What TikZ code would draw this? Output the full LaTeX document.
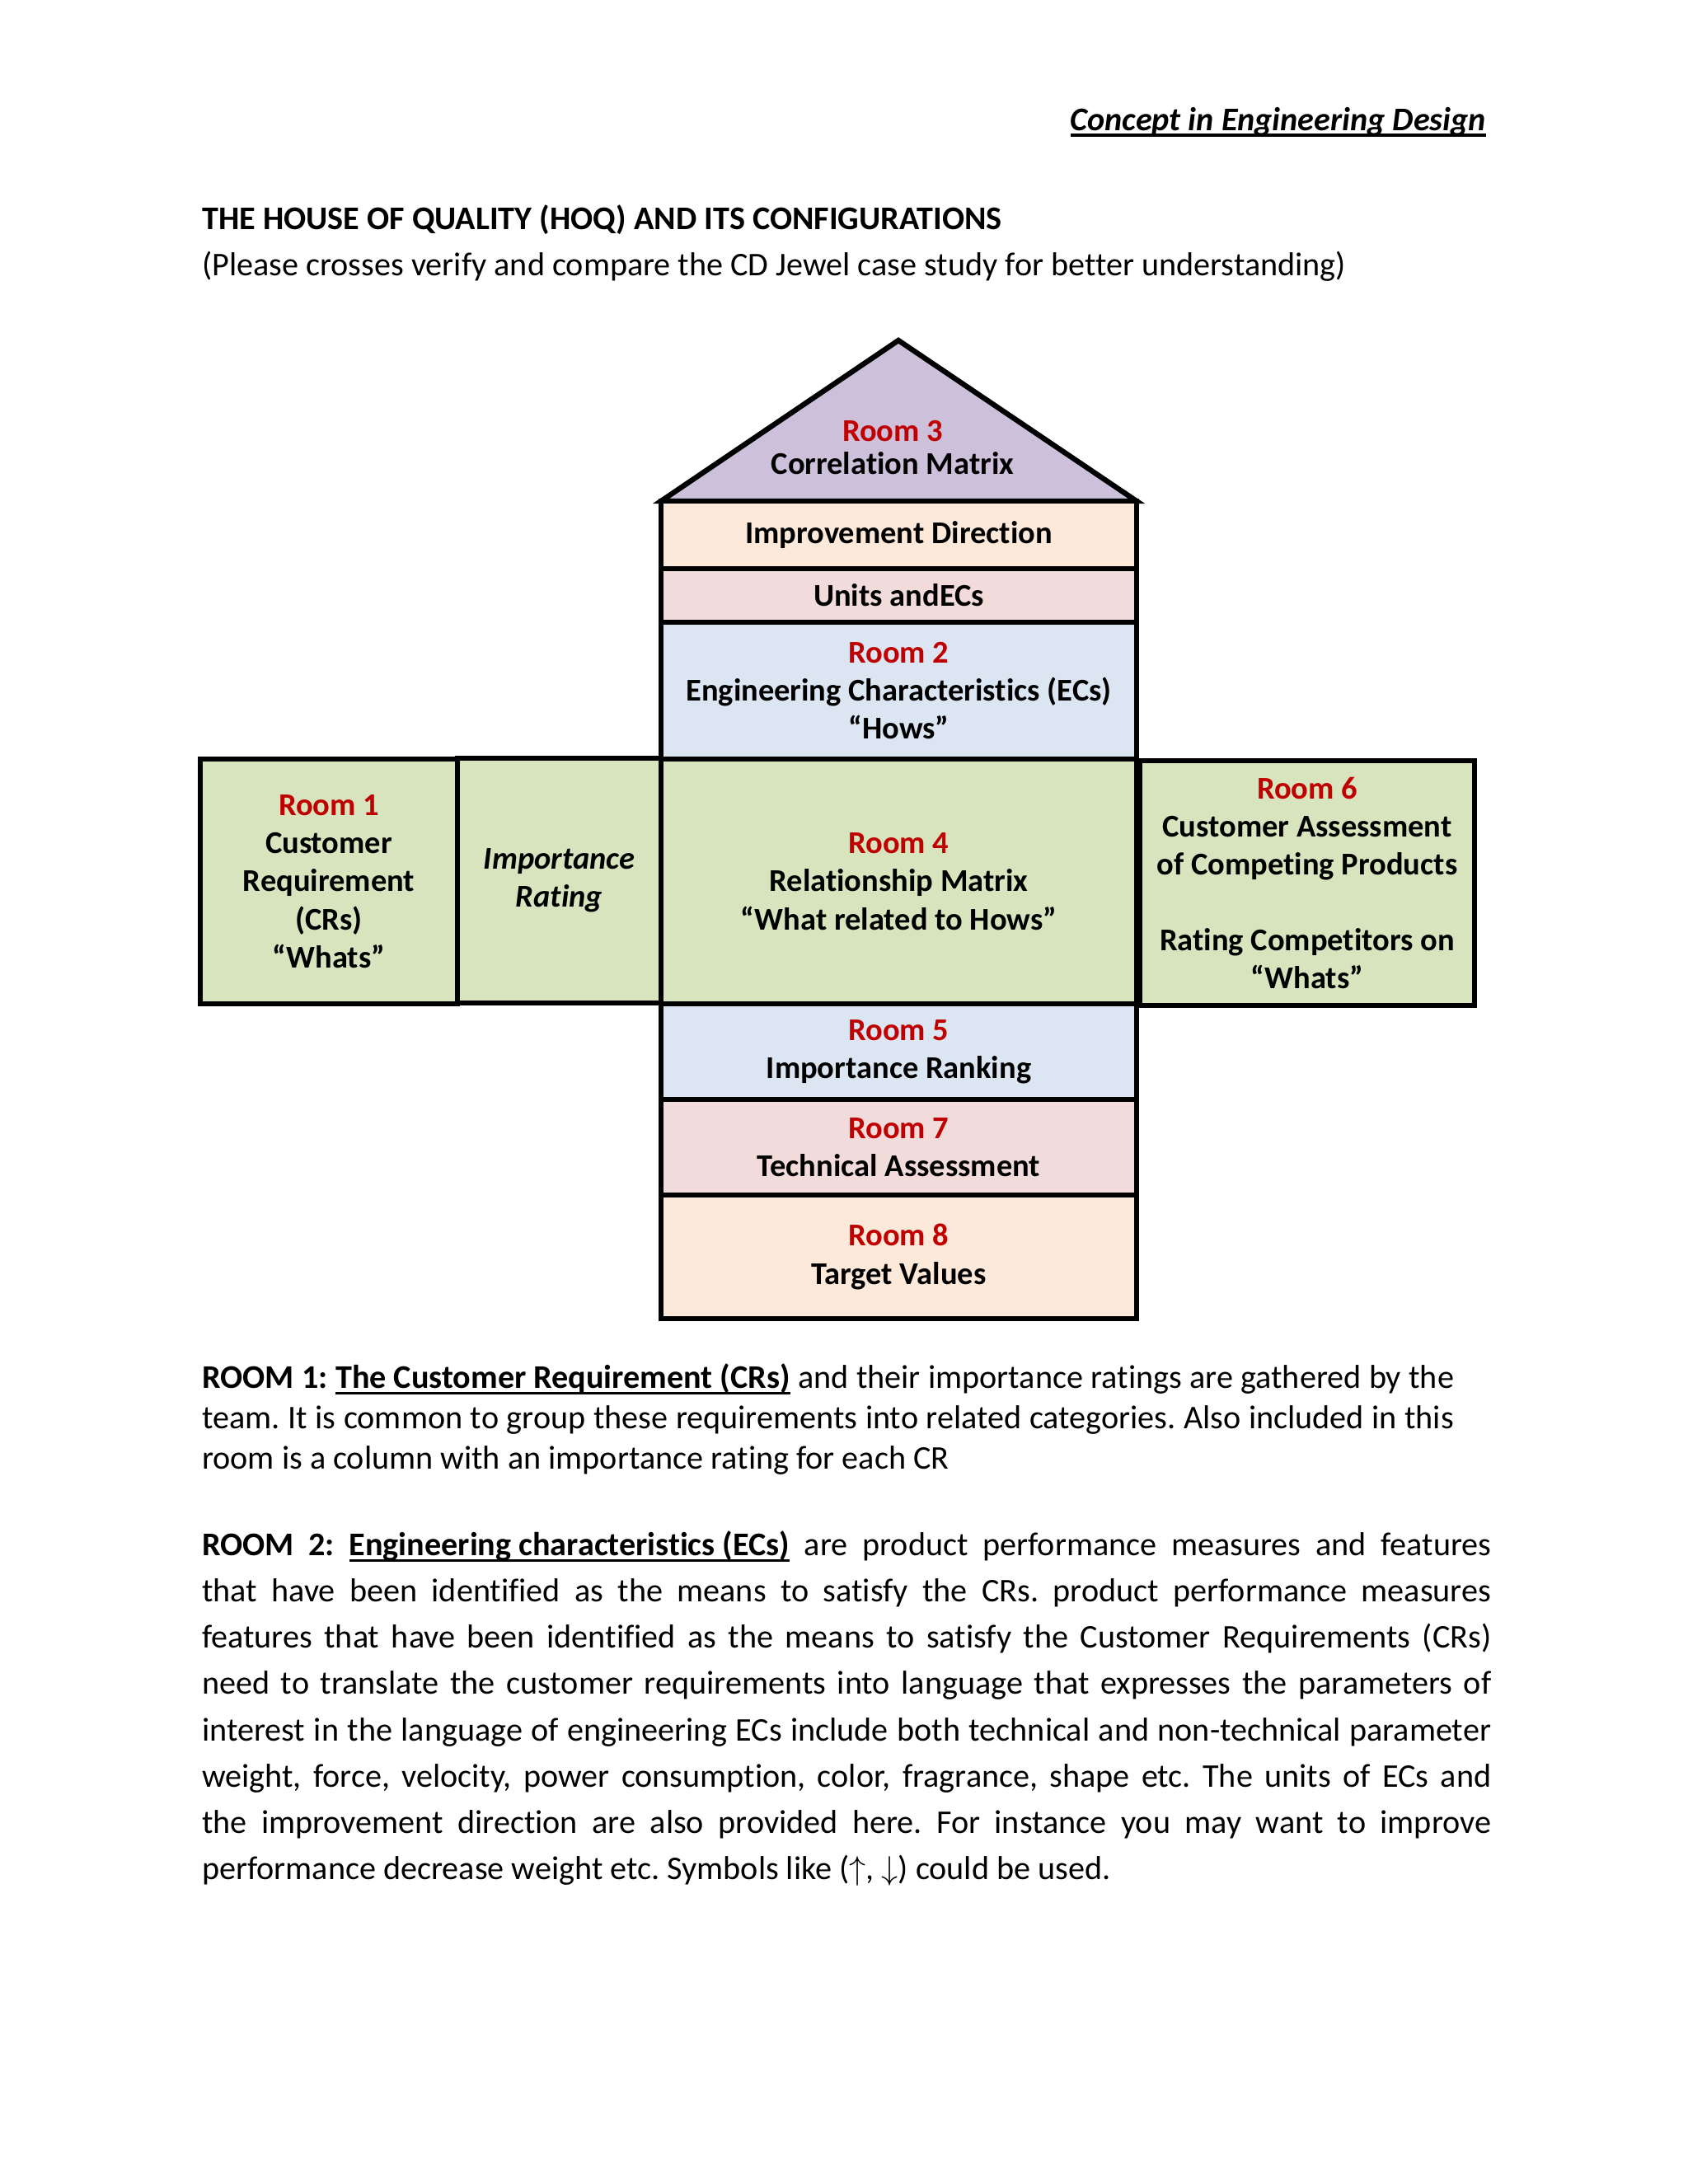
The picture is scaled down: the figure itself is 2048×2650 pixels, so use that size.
\documentclass[tikz,border=0pt]{standalone}
\usepackage{fontspec}
\setmainfont{Carlito}[Ligatures={TeX,NoCommon}]
\usetikzlibrary{positioning}
\usepackage{xcolor}
\definecolor{roofpurple}{HTML}{CCC0DA}
\definecolor{peach}{HTML}{FDE9D9}
\definecolor{rosepink}{HTML}{F2DCDB}
\definecolor{paleblue}{HTML}{DCE6F2}
\definecolor{sagegreen}{HTML}{D7E4BD}
\definecolor{roomred}{HTML}{C00000}
\newdimen\pxu \pxu=0.298828pt
\newcommand\rn[1]{\textcolor{roomred}{Room #1}}
\newcommand\undl[3]{\setbox0=\hbox{#3}\rlap{\rule[#1]{\wd0}{#2}}\box0\relax}
\frenchspacing

\begin{document}
\begin{tikzpicture}[x=0.298828pt, y=-0.298828pt, line width=1.9pt]
\tikzstyle{room} = [rectangle, draw, inner sep=0pt, align=center,
font=\fontsize{11.5}{13.8}\selectfont\bfseries]
\tikzstyle{para} = [inner sep=0pt, anchor=base west, text width=467.4pt,
font=\fontsize{12}{14.65}\selectfont]
\fill[white] (0,0) rectangle (2048,2650);
\useasboundingbox (0,0) rectangle (2048,2650);
%% heading
\node[inner sep=0pt, anchor=base east, font=\fontsize{12}{14.65}\selectfont\bfseries\itshape] at (1806,158) (HEAD){\undl{-2.4pt}{1.1pt}{Concept in Engineering Design}};
\node[inner sep=0pt, anchor=base west, font=\fontsize{12}{14.65}\selectfont\bfseries] at (242,278) (TITLE){THE HOUSE OF QUALITY (HOQ) AND ITS CONFIGURATIONS};
\node[inner sep=0pt, anchor=base west, font=\fontsize{12}{14.65}\selectfont] at (242,334) (SUB){(Please crosses verify and compare the CD Jewel case study for better understanding)};
%% roof
\filldraw[fill=roofpurple, line join=miter] (802,608) -- (1090,413) -- (1379,608) -- cycle;
\node[align=center, inner sep=0pt, font=\fontsize{11.5}{11.7}\selectfont\bfseries] at (1083,543) (R3){\rn{3}\\ Correlation Matrix};
%% column
\node[room, fill=peach, minimum width=577*\pxu, minimum height=82*\pxu] at (1090.5,649) (IMPDIR){Improvement Direction};
\node[room, fill=rosepink, minimum width=577*\pxu, minimum height=65*\pxu] at (1090.5,722.5) (UNITS){Units andECs};
\node[room, fill=paleblue, minimum width=577*\pxu, minimum height=166*\pxu] at (1090.5,838) (R2){\rn{2}\\ Engineering Characteristics (ECs)\\ ``Hows''};
\node[room, fill=sagegreen, minimum width=312*\pxu, minimum height=297*\pxu] at (399,1069.5) (R1){\rn{1}\\ Customer\\ Requirement\\ (CRs)\\ ``Whats''};
\node[room, fill=sagegreen, minimum width=247*\pxu, minimum height=297*\pxu, font=\fontsize{11.5}{13.8}\selectfont\bfseries\itshape] at (678.5,1068.5) (IR){Importance\\ Rating};
\node[room, fill=sagegreen, minimum width=577*\pxu, minimum height=297*\pxu] at (1090.5,1069.5) (R4){\rn{4}\\ Relationship Matrix\\ ``What related to Hows''};
\node[room, fill=sagegreen, minimum width=406*\pxu, minimum height=297*\pxu] at (1586,1071.5) (R6){\rn{6}\\ Customer Assessment\\ of Competing Products\\[13.8pt] Rating Competitors on\\ ``Whats''};
\node[room, fill=paleblue, minimum width=577*\pxu, minimum height=116*\pxu] at (1090.5,1276) (R5){\rn{5}\\ Importance Ranking};
\node[room, fill=rosepink, minimum width=577*\pxu, minimum height=116*\pxu] at (1090.5,1392) (R7){\rn{7}\\ Technical Assessment};
\node[room, fill=peach, minimum width=577*\pxu, minimum height=150*\pxu] at (1090.5,1525) (R8){\rn{8}\\ Target Values};
%% text
\node[para, align=justify, text width=453.9pt] at (242,1684) (P1){\tolerance=10000\hyphenpenalty=10000
\spaceskip=1\fontdimen2\font plus 0.5\fontdimen2\font minus 0.5\fontdimen2\font
\textbf{ROOM 1:} \undl{-2.3pt}{0.7pt}{\textbf{The Customer Requirement (CRs)}} and their importance ratings are gathered by the\linebreak
team. It is common to group these requirements into related categories. Also included in this\linebreak
room is a column with an importance rating for each CR};
\node[para, align=justify, font=\fontsize{12}{16.81}\selectfont] at (242,1887) (P2){\tolerance=10000\hyphenpenalty=10000
\textbf{ROOM 2:} \undl{-2.3pt}{0.7pt}{\textbf{Engineering characteristics (ECs)}} are product performance measures and features\linebreak
that have been identified as the means to satisfy the CRs. product performance measures\linebreak
features that have been identified as the means to satisfy the Customer Requirements (CRs)\linebreak
need to translate the customer requirements into language that expresses the parameters of\linebreak
interest in the language of engineering ECs include both technical and non-technical parameter\linebreak
weight, force, velocity, power consumption, color, fragrance, shape etc. The units of ECs and\linebreak
the improvement direction are also provided here. For instance you may want to improve\linebreak
performance decrease weight etc. Symbols like ($\uparrow$, $\downarrow$) could be used.};
\end{tikzpicture}
\end{document}
